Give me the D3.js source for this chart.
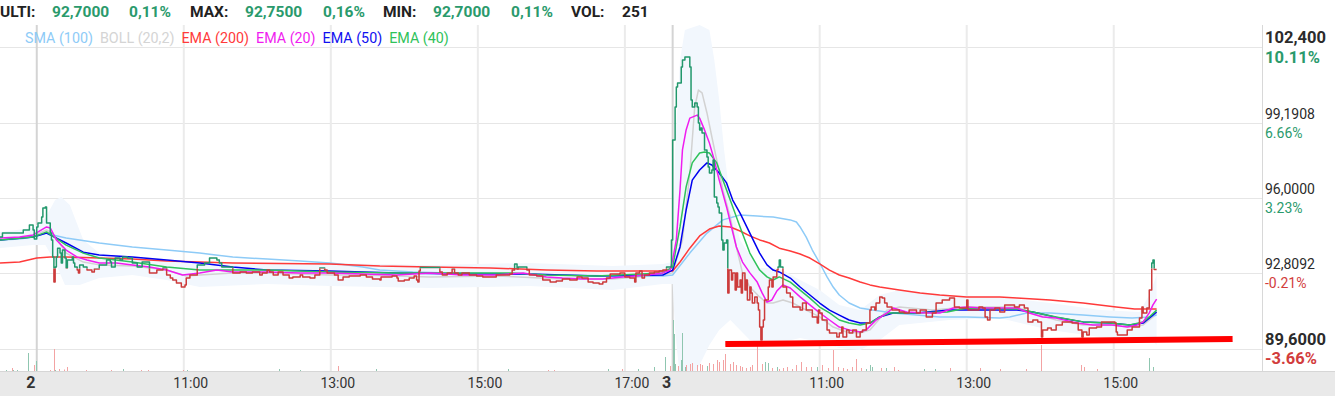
<!DOCTYPE html>
<html lang="it">
<head>
<meta charset="UTF-8">
<title>Grafico intraday</title>
<script src="https://cdn.jsdelivr.net/npm/d3@7"></script>
<style>
  body { margin: 0; background: #fff; }
  svg { display: block; font-family: Roboto, "Noto Sans", sans-serif; }
  .line { fill: none; stroke-width: 1.5; stroke-linejoin: round; }
</style>
</head>
<body>
<svg width="1335" height="396"></svg>
<script>
// header quote
const headerItems = ["ULTI:", "92,7000", "0,11%", "MAX:", "92,7500", "0,16%", "MIN:", "92,7000", "0,11%", "VOL:", "251"];
const headerIsValue = [false, true, true, false, true, true, false, true, true, false, false];

const legendNames = ["SMA (100)", "BOLL (20,2)", "EMA (200)", "EMA (20)", "EMA (50)", "EMA (40)"];

// right axis
const yTickValues = [102.4, 99.1908, 96.0, 92.8092, 89.6];
const yTickLabels = ["102,400", "99,1908", "96,0000", "92,8092", "89,6000"];
const yTickPct = ["10.11%", "6.66%", "3.23%", "-0.21%", "-3.66%"];
const refPrice = 93.0;

// bottom axis
const xTickTimes = ["2 09:00", "2 11:00", "2 13:00", "2 15:00", "2 17:00", "3 09:00", "3 11:00", "3 13:00", "3 15:00"];
const xTickLabels = ["2", "11:00", "13:00", "15:00", "17:00", "3", "11:00", "13:00", "15:00"];

// price, day 1 tail then day 2 and day 3
const price = [
  ["1 17:09", 94.33], ["1 17:11", 94.50], ["1 17:27", 94.50], ["1 17:28", 94.63], ["1 17:33", 94.84],
  ["1 17:36", 94.63], ["1 17:37", 94.25], ["2 09:00", 94.76], ["2 09:01", 94.93], ["2 09:04", 95.18],
  ["2 09:05", 95.57], ["2 09:07", 95.61], ["2 09:08", 94.93], ["2 09:11", 94.50], ["2 09:12", 94.21],
  ["2 09:13", 93.48], ["2 09:14", 92.42], ["2 09:15", 93.06], ["2 09:16", 93.48], ["2 09:17", 93.86],
  ["2 09:19", 93.65], ["2 09:20", 93.23], ["2 09:21", 93.78], ["2 09:23", 93.44], ["2 09:24", 93.02],
  ["2 09:25", 93.36], ["2 09:29", 93.48], ["2 09:30", 93.23], ["2 09:31", 93.06], ["2 09:33", 92.93],
  ["2 09:34", 92.81], ["2 09:35", 93.15], ["2 09:38", 93.06], ["2 09:41", 92.93], ["2 09:45", 92.85],
  ["2 09:47", 92.98], ["2 09:51", 93.15], ["2 09:57", 93.36], ["2 10:00", 93.27], ["2 10:01", 93.06],
  ["2 10:04", 93.44], ["2 10:08", 93.36], ["2 10:10", 93.48], ["2 10:14", 93.44], ["2 10:18", 93.23],
  ["2 10:22", 93.06], ["2 10:26", 93.27], ["2 10:32", 92.81], ["2 10:38", 92.93], ["2 10:43", 93.02],
  ["2 10:46", 92.72], ["2 10:49", 92.59], ["2 10:51", 92.51], ["2 10:54", 92.38], ["2 10:58", 92.21],
  ["2 11:01", 92.30], ["2 11:02", 92.59], ["2 11:05", 92.72], ["2 11:11", 93.15], ["2 11:17", 93.23],
  ["2 11:21", 93.44], ["2 11:27", 93.36], ["2 11:29", 93.23], ["2 11:31", 93.06], ["2 11:40", 92.81],
  ["2 11:46", 92.85], ["2 11:51", 92.81], ["2 11:56", 92.85], ["2 12:02", 92.72], ["2 12:04", 92.81],
  ["2 12:08", 92.93], ["2 12:10", 92.85], ["2 12:13", 92.72], ["2 12:17", 92.85], ["2 12:21", 92.72],
  ["2 12:26", 92.59], ["2 12:29", 92.64], ["2 12:35", 92.72], ["2 12:37", 92.64], ["2 12:43", 92.59],
  ["2 12:47", 92.72], ["2 12:51", 93.02], ["2 12:55", 92.93], ["2 12:57", 92.81], ["2 13:03", 92.72],
  ["2 13:06", 92.51], ["2 13:10", 92.64], ["2 13:15", 92.68], ["2 13:24", 92.72], ["2 13:29", 92.64],
  ["2 13:34", 92.55], ["2 13:40", 92.51], ["2 13:41", 92.64], ["2 13:50", 92.68], ["2 13:54", 92.59],
  ["2 13:55", 92.47], ["2 14:00", 92.51], ["2 14:04", 92.59], ["2 14:08", 92.68], ["2 14:10", 92.51],
  ["2 14:11", 92.42], ["2 14:12", 92.89], ["2 14:13", 93.04], ["2 14:21", 93.04], ["2 14:29", 92.85],
  ["2 14:31", 92.72], ["2 14:35", 92.81], ["2 14:39", 92.98], ["2 14:41", 92.81], ["2 14:44", 92.72],
  ["2 14:47", 92.81], ["2 14:53", 92.72], ["2 14:59", 92.68], ["2 15:04", 92.64], ["2 15:15", 92.72],
  ["2 15:26", 92.76], ["2 15:28", 92.93], ["2 15:30", 93.19], ["2 15:32", 92.98], ["2 15:33", 93.06],
  ["2 15:40", 92.93], ["2 15:42", 92.72], ["2 15:48", 92.68], ["2 15:53", 92.51], ["2 15:59", 92.42],
  ["2 16:04", 92.47], ["2 16:09", 92.55], ["2 16:15", 92.51], ["2 16:21", 92.64], ["2 16:25", 92.59],
  ["2 16:30", 92.42], ["2 16:34", 92.38], ["2 16:39", 92.34], ["2 16:42", 92.42], ["2 16:45", 92.59],
  ["2 16:48", 92.76], ["2 16:56", 92.81], ["2 17:00", 92.64], ["2 17:04", 92.59], ["2 17:08", 92.42],
  ["2 17:09", 92.81], ["2 17:12", 92.89], ["2 17:14", 92.59], ["2 17:16", 92.72], ["2 17:20", 92.81],
  ["2 17:24", 92.85], ["2 17:28", 92.89], ["2 17:31", 92.93], ["2 17:34", 93.06], ["2 17:38", 94.21],
  ["2 17:39", 95.50], ["3 09:00", 98.45], ["3 09:02", 99.85], ["3 09:03", 100.70], ["3 09:04", 100.87],
  ["3 09:06", 100.87], ["3 09:07", 101.55], ["3 09:08", 101.85], ["3 09:10", 101.98], ["3 09:12", 101.98],
  ["3 09:14", 101.55], ["3 09:15", 100.15], ["3 09:16", 99.85], ["3 09:18", 100.02], ["3 09:20", 99.85],
  ["3 09:21", 99.17], ["3 09:22", 98.88], ["3 09:23", 98.96], ["3 09:24", 98.75], ["3 09:26", 98.03],
  ["3 09:28", 97.73], ["3 09:29", 97.31], ["3 09:30", 97.05], ["3 09:32", 97.18], ["3 09:33", 97.60],
  ["3 09:34", 96.03], ["3 09:36", 95.78], ["3 09:37", 95.61], ["3 09:38", 95.35], ["3 09:40", 94.21],
  ["3 09:41", 93.78], ["3 09:42", 94.08], ["3 09:44", 94.21], ["3 09:45", 91.96], ["3 09:46", 92.93],
  ["3 09:48", 92.51], ["3 09:49", 92.81], ["3 09:51", 92.08], ["3 09:52", 92.81], ["3 09:53", 92.21],
  ["3 09:55", 92.51], ["3 09:56", 91.96], ["3 09:57", 92.81], ["3 09:59", 92.08], ["3 10:00", 92.51],
  ["3 10:01", 91.66], ["3 10:03", 92.21], ["3 10:04", 91.96], ["3 10:05", 91.53], ["3 10:07", 91.79],
  ["3 10:09", 91.53], ["3 10:10", 91.23], ["3 10:11", 90.51], ["3 10:12", 89.96], ["3 10:13", 90.51],
  ["3 10:14", 90.81], ["3 10:15", 91.66], ["3 10:18", 92.21], ["3 10:19", 92.51], ["3 10:21", 92.21],
  ["3 10:22", 92.64], ["3 10:25", 92.93], ["3 10:26", 93.06], ["3 10:27", 93.36], ["3 10:28", 93.06],
  ["3 10:30", 92.21], ["3 10:33", 91.96], ["3 10:36", 91.79], ["3 10:38", 91.36], ["3 10:44", 91.23],
  ["3 10:46", 91.53], ["3 10:49", 91.23], ["3 10:54", 90.94], ["3 10:58", 90.68], ["3 10:59", 91.23],
  ["3 11:00", 91.11], ["3 11:02", 90.81], ["3 11:06", 90.39], ["3 11:08", 90.26], ["3 11:14", 90.09],
  ["3 11:16", 90.26], ["3 11:18", 90.51], ["3 11:19", 90.09], ["3 11:22", 90.39], ["3 11:24", 90.26],
  ["3 11:27", 90.39], ["3 11:30", 90.09], ["3 11:33", 90.30], ["3 11:35", 90.39], ["3 11:38", 90.68],
  ["3 11:41", 91.23], ["3 11:42", 91.36], ["3 11:45", 91.23], ["3 11:46", 91.53], ["3 11:49", 91.79],
  ["3 11:51", 91.74], ["3 11:53", 91.53], ["3 11:55", 91.36], ["3 11:59", 91.23], ["3 12:05", 91.15],
  ["3 12:09", 91.11], ["3 12:13", 91.23], ["3 12:19", 91.11], ["3 12:22", 91.23], ["3 12:27", 90.94],
  ["3 12:32", 91.11], ["3 12:35", 91.53], ["3 12:40", 91.66], ["3 12:46", 91.74], ["3 12:50", 91.36],
  ["3 12:54", 91.32], ["3 13:00", 91.66], ["3 13:01", 91.23], ["3 13:10", 91.36], ["3 13:13", 91.32],
  ["3 13:15", 90.94], ["3 13:17", 90.81], ["3 13:19", 91.23], ["3 13:23", 91.32], ["3 13:27", 91.15],
  ["3 13:31", 91.45], ["3 13:39", 91.36], ["3 13:43", 91.45], ["3 13:47", 91.32], ["3 13:50", 90.73],
  ["3 13:54", 90.81], ["3 13:58", 90.73], ["3 14:01", 90.09], ["3 14:02", 90.39], ["3 14:06", 90.47],
  ["3 14:09", 90.39], ["3 14:13", 90.60], ["3 14:18", 90.73], ["3 14:26", 90.68], ["3 14:31", 90.39],
  ["3 14:34", 90.09], ["3 14:35", 90.30], ["3 14:38", 90.17], ["3 14:40", 90.47], ["3 14:46", 90.51],
  ["3 14:50", 90.73], ["3 14:57", 90.73], ["3 15:01", 90.68], ["3 15:02", 90.30], ["3 15:03", 90.17],
  ["3 15:07", 90.17], ["3 15:11", 90.39], ["3 15:15", 90.51], ["3 15:19", 90.51], ["3 15:21", 90.89],
  ["3 15:23", 91.36], ["3 15:24", 91.11], ["3 15:27", 91.32], ["3 15:29", 92.08], ["3 15:31", 93.23],
  ["3 15:32", 93.36], ["3 15:33", 92.95], ["3 15:35", 92.95]
];

const sma100 = [
  ["1 17:09", 94.21], ["1 17:25", 94.25], ["1 17:36", 94.33], ["2 09:08", 94.50], ["2 09:13", 94.42],
  ["2 09:24", 94.29], ["2 09:51", 94.08], ["2 10:18", 93.91], ["2 10:46", 93.78], ["2 11:13", 93.65],
  ["2 11:40", 93.48], ["2 12:08", 93.40], ["2 12:35", 93.31], ["2 12:59", 93.23], ["2 13:07", 93.19],
  ["2 13:26", 93.06], ["2 13:40", 92.93], ["2 14:07", 92.85], ["2 14:35", 92.81], ["2 15:01", 92.81],
  ["2 15:28", 92.76], ["2 16:09", 92.72], ["2 16:50", 92.68], ["2 17:31", 92.68], ["3 09:00", 92.72],
  ["3 09:14", 93.65], ["3 09:28", 94.50], ["3 09:41", 95.06], ["3 09:55", 95.27], ["3 10:09", 95.22],
  ["3 10:22", 95.18], ["3 10:36", 95.06], ["3 10:41", 94.97], ["3 10:44", 94.76], ["3 10:49", 94.33],
  ["3 10:54", 93.78], ["3 11:00", 93.23], ["3 11:06", 92.64], ["3 11:11", 92.21], ["3 11:16", 91.87],
  ["3 11:24", 91.53], ["3 11:33", 91.32], ["3 11:43", 91.23], ["3 12:00", 91.11], ["3 12:19", 91.02],
  ["3 12:38", 90.94], ["3 13:00", 90.94], ["3 13:27", 90.89], ["3 13:35", 90.94], ["3 13:49", 91.11],
  ["3 14:08", 91.11], ["3 14:35", 91.02], ["3 14:57", 90.94], ["3 15:15", 90.89], ["3 15:29", 90.94],
  ["3 15:35", 91.02]
];

const bollMid = [
  ["1 17:09", 94.21], ["1 17:36", 94.38], ["2 09:08", 94.63], ["2 09:13", 94.50], ["2 09:24", 93.65],
  ["2 09:38", 93.27], ["2 09:51", 93.15], ["2 10:18", 93.10], ["2 10:46", 92.93], ["2 11:02", 92.68],
  ["2 11:13", 92.72], ["2 11:40", 92.81], ["2 12:08", 92.81], ["2 12:59", 92.72], ["2 13:26", 92.72],
  ["2 14:21", 92.64], ["2 15:15", 92.68], ["2 16:09", 92.55], ["2 16:50", 92.55], ["2 17:31", 92.72],
  ["3 09:00", 92.81], ["3 09:08", 94.21], ["3 09:14", 97.05], ["3 09:18", 99.85], ["3 09:21", 100.57],
  ["3 09:24", 100.45], ["3 09:28", 99.60], ["3 09:32", 98.58], ["3 09:36", 97.60], ["3 09:41", 96.33],
  ["3 09:47", 95.18], ["3 09:52", 93.91], ["3 09:57", 92.81], ["3 10:03", 92.21], ["3 10:11", 91.79],
  ["3 10:17", 91.53], ["3 10:22", 91.53], ["3 10:30", 91.66], ["3 10:38", 91.53], ["3 10:49", 91.23],
  ["3 11:00", 90.94], ["3 11:11", 90.51], ["3 11:22", 90.30], ["3 11:33", 90.26], ["3 11:41", 90.39],
  ["3 11:55", 91.23], ["3 12:05", 91.36], ["3 12:32", 91.23], ["3 13:00", 91.36], ["3 13:41", 91.36],
  ["3 13:54", 91.11], ["3 14:13", 90.81], ["3 14:35", 90.60], ["3 14:57", 90.60], ["3 15:13", 90.51],
  ["3 15:24", 90.60], ["3 15:32", 90.94], ["3 15:35", 91.11]
];

const bollUpper = [
  ["1 17:09", 94.55], ["1 17:36", 94.72], ["2 09:07", 95.14], ["2 09:15", 95.90], ["2 09:20", 96.03],
  ["2 09:27", 95.69], ["2 09:38", 94.21], ["2 09:51", 93.65], ["2 10:18", 93.44], ["2 11:13", 93.27],
  ["2 12:08", 93.27], ["2 12:59", 93.23], ["2 14:21", 93.15], ["2 15:42", 93.23], ["2 16:50", 93.10],
  ["2 17:31", 93.19], ["3 09:00", 93.27], ["3 09:02", 98.03], ["3 09:06", 101.85], ["3 09:10", 103.12],
  ["3 09:22", 103.33], ["3 09:30", 103.12], ["3 09:34", 101.85], ["3 09:38", 100.15], ["3 09:42", 98.03],
  ["3 09:47", 95.90], ["3 09:55", 94.21], ["3 10:03", 93.57], ["3 10:11", 93.02], ["3 10:27", 93.02],
  ["3 10:44", 92.51], ["3 11:00", 92.08], ["3 11:16", 91.45], ["3 11:33", 91.23], ["3 11:49", 91.87],
  ["3 12:05", 92.08], ["3 12:46", 91.87], ["3 13:27", 91.79], ["3 14:08", 91.53], ["3 14:49", 91.23],
  ["3 15:21", 91.15], ["3 15:29", 91.87], ["3 15:35", 92.72]
];

const bollLower = [
  ["1 17:09", 93.87], ["1 17:36", 93.99], ["2 09:07", 93.99], ["2 09:15", 93.27], ["2 09:23", 92.30],
  ["2 09:35", 92.30], ["2 09:51", 92.59], ["2 10:18", 92.72], ["2 10:46", 92.51], ["2 11:13", 92.21],
  ["2 12:08", 92.34], ["2 12:59", 92.25], ["2 14:21", 92.17], ["2 15:42", 92.25], ["2 16:50", 92.08],
  ["2 17:31", 92.34], ["3 09:00", 92.34], ["3 09:02", 90.39], ["3 09:06", 88.26], ["3 09:14", 88.26],
  ["3 09:22", 88.90], ["3 09:30", 89.75], ["3 09:38", 90.39], ["3 09:47", 90.81], ["3 09:55", 90.39],
  ["3 10:03", 89.96], ["3 10:19", 89.75], ["3 10:44", 90.05], ["3 11:00", 89.88], ["3 11:16", 89.62],
  ["3 11:33", 89.54], ["3 11:49", 89.96], ["3 12:05", 90.60], ["3 12:46", 90.81], ["3 13:27", 90.89],
  ["3 14:08", 90.39], ["3 14:49", 90.09], ["3 15:21", 90.05], ["3 15:29", 90.05], ["3 15:35", 89.75]
];

const ema200 = [
  ["1 17:09", 93.23], ["1 17:25", 93.27], ["2 09:00", 93.44], ["2 09:11", 93.48], ["2 09:24", 93.48],
  ["2 09:51", 93.44], ["2 10:18", 93.40], ["2 10:46", 93.31], ["2 11:13", 93.27], ["2 11:40", 93.23],
  ["2 12:59", 93.19], ["2 13:40", 93.10], ["2 14:21", 93.06], ["2 15:10", 93.02], ["2 15:56", 92.93],
  ["2 16:37", 92.89], ["2 17:31", 92.89], ["3 09:00", 92.89], ["3 09:06", 93.27], ["3 09:14", 93.86],
  ["3 09:22", 94.38], ["3 09:30", 94.67], ["3 09:38", 94.80], ["3 09:47", 94.76], ["3 09:55", 94.59],
  ["3 10:03", 94.38], ["3 10:11", 94.21], ["3 10:19", 94.08], ["3 10:27", 93.86], ["3 10:36", 93.74],
  ["3 10:44", 93.61], ["3 10:52", 93.44], ["3 11:00", 93.19], ["3 11:08", 92.93], ["3 11:16", 92.72],
  ["3 11:24", 92.59], ["3 11:33", 92.42], ["3 11:41", 92.30], ["3 11:49", 92.21], ["3 12:05", 92.08],
  ["3 12:22", 91.96], ["3 12:38", 91.87], ["3 13:00", 91.79], ["3 13:27", 91.79], ["3 13:41", 91.74],
  ["3 14:08", 91.66], ["3 14:35", 91.53], ["3 15:02", 91.36], ["3 15:17", 91.28], ["3 15:35", 91.28]
];

const ema20 = [
  ["1 17:09", 94.29], ["1 17:25", 94.33], ["1 17:36", 94.42], ["2 09:08", 94.76], ["2 09:11", 94.72],
  ["2 09:16", 94.21], ["2 09:24", 93.78], ["2 09:33", 93.48], ["2 09:41", 93.36], ["2 09:51", 93.23],
  ["2 10:05", 93.23], ["2 10:18", 93.15], ["2 10:32", 93.06], ["2 10:46", 92.93], ["2 10:59", 92.72],
  ["2 11:13", 92.81], ["2 11:27", 92.93], ["2 11:40", 92.85], ["2 12:08", 92.85], ["2 12:35", 92.81],
  ["2 12:59", 92.81], ["2 13:54", 92.72], ["2 14:21", 92.81], ["2 14:48", 92.72], ["2 15:15", 92.72],
  ["2 15:37", 92.81], ["2 15:56", 92.64], ["2 16:09", 92.59], ["2 16:26", 92.55], ["2 16:42", 92.55],
  ["2 16:58", 92.64], ["2 17:18", 92.72], ["2 17:31", 92.81], ["2 17:37", 92.93], ["3 09:00", 93.36],
  ["3 09:03", 94.21], ["3 09:06", 96.33], ["3 09:08", 98.03], ["3 09:11", 98.88], ["3 09:14", 99.38],
  ["3 09:20", 99.51], ["3 09:22", 99.38], ["3 09:26", 98.88], ["3 09:30", 98.32], ["3 09:34", 97.60],
  ["3 09:38", 96.75], ["3 09:44", 95.61], ["3 09:48", 94.76], ["3 09:52", 93.91], ["3 09:57", 93.27],
  ["3 10:03", 92.81], ["3 10:09", 92.42], ["3 10:13", 91.96], ["3 10:17", 91.57], ["3 10:21", 91.66],
  ["3 10:25", 92.04], ["3 10:30", 92.30], ["3 10:36", 92.17], ["3 10:44", 91.79], ["3 10:52", 91.45],
  ["3 11:00", 91.11], ["3 11:08", 90.81], ["3 11:16", 90.51], ["3 11:24", 90.39], ["3 11:33", 90.30],
  ["3 11:38", 90.39], ["3 11:46", 90.81], ["3 11:55", 91.11], ["3 12:00", 91.32], ["3 12:11", 91.15],
  ["3 12:27", 91.11], ["3 12:38", 91.11], ["3 12:49", 91.32], ["3 13:00", 91.36], ["3 13:13", 91.32],
  ["3 13:41", 91.32], ["3 13:51", 91.11], ["3 14:02", 90.94], ["3 14:13", 90.89], ["3 14:30", 90.68],
  ["3 14:43", 90.60], ["3 14:59", 90.60], ["3 15:11", 90.51], ["3 15:19", 90.60], ["3 15:24", 90.73],
  ["3 15:29", 91.11], ["3 15:32", 91.45], ["3 15:35", 91.70]
];

const ema40 = [
  ["1 17:09", 94.21], ["1 17:36", 94.33], ["2 09:08", 94.55], ["2 09:24", 93.99], ["2 09:38", 93.65],
  ["2 09:51", 93.44], ["2 10:18", 93.27], ["2 10:46", 93.06], ["2 11:13", 92.93], ["2 12:08", 92.93],
  ["2 12:59", 92.85], ["2 13:54", 92.81], ["2 15:28", 92.81], ["2 15:56", 92.72], ["2 16:37", 92.68],
  ["2 17:31", 92.81], ["3 09:00", 93.06], ["3 09:06", 94.76], ["3 09:11", 96.46], ["3 09:16", 97.48],
  ["3 09:22", 97.90], ["3 09:26", 97.94], ["3 09:30", 97.90], ["3 09:36", 97.48], ["3 09:41", 96.75],
  ["3 09:47", 95.90], ["3 09:55", 94.76], ["3 10:03", 93.65], ["3 10:11", 92.93], ["3 10:17", 92.64],
  ["3 10:22", 92.51], ["3 10:27", 92.64], ["3 10:36", 92.42], ["3 10:44", 92.08], ["3 10:52", 91.74],
  ["3 11:00", 91.36], ["3 11:08", 91.11], ["3 11:16", 90.81], ["3 11:24", 90.68], ["3 11:33", 90.60],
  ["3 11:41", 90.68], ["3 11:49", 90.94], ["3 11:57", 91.11], ["3 12:11", 91.11], ["3 12:44", 91.15],
  ["3 13:00", 91.32], ["3 13:41", 91.28], ["3 13:54", 91.15], ["3 14:13", 90.94], ["3 14:35", 90.73],
  ["3 14:57", 90.68], ["3 15:13", 90.60], ["3 15:24", 90.73], ["3 15:29", 90.94], ["3 15:35", 91.23]
];

const ema50 = [
  ["1 17:09", 94.21], ["1 17:36", 94.33], ["2 09:08", 94.50], ["2 09:24", 94.08], ["2 09:38", 93.69],
  ["2 09:51", 93.57], ["2 10:18", 93.48], ["2 10:46", 93.36], ["2 11:13", 93.23], ["2 11:40", 93.06],
  ["2 12:08", 92.93], ["2 12:59", 92.89], ["2 13:54", 92.81], ["2 14:48", 92.76], ["2 15:42", 92.76],
  ["2 16:37", 92.68], ["2 17:31", 92.72], ["3 09:00", 92.93], ["3 09:06", 93.91], ["3 09:11", 95.48],
  ["3 09:16", 96.75], ["3 09:22", 97.18], ["3 09:28", 97.48], ["3 09:32", 97.39], ["3 09:38", 97.05],
  ["3 09:44", 96.63], ["3 09:49", 95.90], ["3 09:55", 95.35], ["3 10:03", 94.50], ["3 10:11", 93.65],
  ["3 10:17", 93.15], ["3 10:22", 92.93], ["3 10:27", 92.85], ["3 10:36", 92.59], ["3 10:44", 92.21],
  ["3 10:52", 91.87], ["3 11:00", 91.53], ["3 11:08", 91.23], ["3 11:16", 91.02], ["3 11:24", 90.81],
  ["3 11:33", 90.68], ["3 11:41", 90.68], ["3 11:49", 90.94], ["3 12:00", 91.11], ["3 12:19", 91.11],
  ["3 12:46", 91.23], ["3 13:13", 91.23], ["3 13:41", 91.23], ["3 13:54", 91.15], ["3 14:16", 90.89],
  ["3 14:35", 90.73], ["3 14:57", 90.68], ["3 15:13", 90.60], ["3 15:24", 90.68], ["3 15:29", 90.89],
  ["3 15:35", 91.15]
];

// volume: time, contracts, 1 = up tick, 0 = down tick
const volume = [
  ["1 17:14", 100, 1], ["1 17:19", 300, 0], ["1 17:20", 100, 1], ["1 17:23", 100, 1], ["1 17:32", 1800, 1],
  ["1 17:37", 600, 0], ["1 17:38", 1000, 1], ["2 09:11", 100, 0], ["2 09:14", 2200, 0], ["2 09:15", 100, 1],
  ["2 09:18", 200, 0], ["2 09:22", 150, 0], ["2 09:25", 400, 0], ["2 09:40", 100, 0], ["2 10:01", 100, 0],
  ["2 10:10", 200, 1], ["2 10:25", 100, 0], ["2 10:31", 100, 0], ["2 10:59", 100, 0], ["2 11:03", 100, 1],
  ["2 12:18", 200, 1], ["2 12:35", 100, 1], ["2 13:06", 500, 0], ["2 13:37", 200, 1], ["2 15:25", 200, 1],
  ["2 15:57", 100, 0], ["2 16:02", 100, 0], ["2 16:46", 200, 1], ["2 16:58", 200, 0], ["2 17:11", 200, 1],
  ["2 17:24", 400, 1], ["2 17:33", 1400, 1], ["2 17:37", 500, 0], ["3 09:00", 5100, 1], ["3 09:01", 3700, 1],
  ["3 09:02", 700, 1], ["3 09:04", 500, 0], ["3 09:07", 1100, 1], ["3 09:08", 3800, 1], ["3 09:10", 400, 1],
  ["3 09:11", 600, 0], ["3 09:14", 700, 0], ["3 09:16", 800, 0], ["3 09:20", 600, 0], ["3 09:22", 700, 0],
  ["3 09:24", 600, 0], ["3 09:28", 500, 1], ["3 09:30", 800, 0], ["3 09:33", 700, 0], ["3 09:36", 1100, 0],
  ["3 09:38", 900, 0], ["3 09:41", 1100, 0], ["3 09:43", 1700, 0], ["3 09:47", 700, 0], ["3 09:49", 900, 0],
  ["3 09:52", 600, 0], ["3 09:55", 500, 0], ["3 09:57", 400, 0], ["3 10:00", 300, 0], ["3 10:03", 400, 0],
  ["3 10:05", 600, 0], ["3 10:09", 2500, 0], ["3 10:13", 700, 0], ["3 10:15", 900, 1], ["3 10:18", 800, 1],
  ["3 10:21", 300, 0], ["3 10:25", 400, 1], ["3 10:27", 200, 0], ["3 10:30", 300, 0], ["3 10:33", 400, 0],
  ["3 10:37", 200, 0], ["3 10:41", 600, 0], ["3 10:45", 900, 0], ["3 10:49", 400, 0], ["3 10:53", 400, 0],
  ["3 10:58", 400, 1], ["3 11:02", 600, 0], ["3 11:07", 300, 0], ["3 11:11", 2100, 0], ["3 11:15", 400, 0],
  ["3 11:19", 300, 0], ["3 11:22", 200, 0], ["3 11:26", 400, 0], ["3 11:30", 1200, 0], ["3 11:34", 300, 0],
  ["3 11:38", 200, 1], ["3 11:41", 600, 1], ["3 11:43", 400, 1], ["3 11:50", 300, 0], ["3 11:54", 300, 1],
  ["3 12:01", 400, 0], ["3 12:04", 100, 0], ["3 12:25", 200, 1], ["3 12:34", 200, 1], ["3 12:46", 300, 0],
  ["3 13:11", 300, 0], ["3 13:27", 200, 0], ["3 13:48", 200, 0], ["3 14:01", 2600, 0], ["3 14:33", 600, 0],
  ["3 14:36", 400, 0], ["3 14:46", 200, 0], ["3 15:29", 1300, 1], ["3 15:32", 400, 1]
];

// support line drawn on the chart
const supportLine = [["3 09:43", 89.79], ["3 16:37", 90.00]];

// ---------------------------------------------------------------
const svg = d3.select("svg");
const W = 1335, H = 396;
const plotRight = 1262, plotTop = 25, plotBottom = 371;

// session minutes: day 2 opens at 0, one session = 519 minutes (09:00-17:39)
function sessionMin(s) {
    const [d, hm] = s.split(" ");
    const [h, m] = hm.split(":").map(Number);
    return (+d - 2) * 519 + h * 60 + m - 540;
}

const x = d3.scaleLinear().domain([-30, 1000]).range([0, plotRight]);
const y = d3.scaleLinear().domain([89.6, 102.4]).range([348.5, 47]);
const yVol = d3.scaleLinear().domain([0, 5100]).range([plotBottom, plotBottom - 51]);

const defs = svg.append("defs");
defs.append("clipPath").attr("id", "plot")
    .append("rect").attr("x", 0).attr("y", plotTop).attr("width", plotRight).attr("height", plotBottom - plotTop);
const yRef = y(refPrice);
defs.append("clipPath").attr("id", "above")
    .append("rect").attr("x", 0).attr("y", plotTop).attr("width", plotRight).attr("height", yRef - plotTop);
defs.append("clipPath").attr("id", "below")
    .append("rect").attr("x", 0).attr("y", yRef).attr("width", plotRight).attr("height", plotBottom - yRef);

// grid
const grid = svg.append("g");
grid.selectAll(".hgrid")
    .data(yTickValues)
    .enter().append("line")
    .attr("x1", 0).attr("x2", plotRight)
    .attr("y1", d => Math.round(y(d)) + 0.5).attr("y2", d => Math.round(y(d)) + 0.5)
    .attr("stroke", "#e6e6e6");
grid.selectAll(".vgrid")
    .data(xTickTimes)
    .enter().append("line")
    .attr("x1", d => x(sessionMin(d))).attr("x2", d => x(sessionMin(d)))
    .attr("y1", plotTop).attr("y2", plotBottom)
    .attr("stroke", (d, i) => xTickLabels[i].length === 1 ? "#d4d4d4" : "#ebebeb")
    .attr("stroke-width", 2);

const plot = svg.append("g").attr("clip-path", "url(#plot)");

// bollinger band: upper edge forward, lower edge back
const bandPath = d3.path();
bollUpper.forEach((d, i) => {
    const px = x(sessionMin(d[0])), py = y(d[1]);
    if (i === 0) bandPath.moveTo(px, py); else bandPath.lineTo(px, py);
});
bollLower.slice().reverse().forEach(d => bandPath.lineTo(x(sessionMin(d[0])), y(d[1])));
bandPath.closePath();
plot.append("path").attr("d", bandPath.toString()).attr("fill", "#f2f7fd");

// volume
plot.selectAll(".vol")
    .data(volume)
    .enter().append("rect")
    .attr("x", d => Math.round(x(sessionMin(d[0]))))
    .attr("width", 1)
    .attr("y", d => yVol(d[1]))
    .attr("height", d => plotBottom - yVol(d[1]))
    .attr("fill", d => d[2] ? "#8fc6b0" : "#f3a3a3");

// moving averages
const line = d3.line()
    .x(d => x(sessionMin(d[0])))
    .y(d => y(d[1]));
const series = [
    [bollMid, "#d2d2d2"],
    [sma100, "#8ecbf7"],
    [ema200, "#ff3a3a"],
    [ema50, "#0000f0"],
    [ema40, "#2fc25a"],
    [ema20, "#f01cf0"]
];
series.forEach(([data, color]) => {
    plot.append("path").datum(data)
        .attr("class", "line")
        .attr("stroke", color)
        .attr("d", line);
});

// price, green above reference, red below
const priceLine = d3.line()
    .x(d => x(sessionMin(d[0])))
    .y(d => y(d[1]))
    .curve(d3.curveStepAfter);
[["above", "#22986c"], ["below", "#cc3b3b"]].forEach(([clip, color]) => {
    plot.append("g").attr("clip-path", `url(#${clip})`)
        .append("path").datum(price)
        .attr("class", "line")
        .attr("stroke", color)
        .attr("d", priceLine);
});

// support line
plot.append("path").datum(supportLine)
    .attr("fill", "none")
    .attr("stroke", "#ff0000")
    .attr("stroke-width", 6)
    .attr("d", line);

// right axis
svg.append("line")
    .attr("x1", plotRight + 0.5).attr("x2", plotRight + 0.5)
    .attr("y1", plotTop).attr("y2", plotBottom)
    .attr("stroke", "#d8d8d8");
const yAxis = svg.append("g");
yTickValues.forEach((v, i) => {
    const bold = i === 0 || i === yTickValues.length - 1;
    yAxis.append("text")
        .attr("x", plotRight + 3).attr("y", y(v) - 4)
        .attr("font-size", bold ? 16.5 : 14)
        .attr("font-weight", bold ? 700 : 400)
        .attr("fill", "#2b2b2b")
        .text(yTickLabels[i]);
    yAxis.append("text")
        .attr("x", plotRight + 3).attr("y", y(v) + 15.5)
        .attr("font-size", bold ? 16.5 : 14)
        .attr("font-weight", bold ? 700 : 400)
        .attr("fill", v >= refPrice ? "#2a9a6c" : "#d23c3c")
        .text(yTickPct[i]);
});

// bottom axis
svg.append("rect")
    .attr("x", 0).attr("y", plotBottom).attr("width", W).attr("height", H - plotBottom)
    .attr("fill", "#e9e9e9");
svg.append("line")
    .attr("x1", 0).attr("x2", W).attr("y1", plotBottom + 0.5).attr("y2", plotBottom + 0.5)
    .attr("stroke", "#d6d6d6");
svg.selectAll(".xlabel")
    .data(xTickTimes)
    .enter().append("text")
    .attr("x", (d, i) => x(sessionMin(d)) + (xTickLabels[i].length === 1 ? -6 : 7))
    .attr("y", 388)
    .attr("text-anchor", "middle")
    .attr("font-size", (d, i) => xTickLabels[i].length === 1 ? 16 : 14)
    .attr("font-weight", (d, i) => xTickLabels[i].length === 1 ? 700 : 400)
    .attr("fill", "#333")
    .text((d, i) => xTickLabels[i]);

// header
const headerX = [0, 52, 129, 190, 245, 323, 383, 433, 511, 571, 622];
svg.selectAll(".head")
    .data(headerItems)
    .enter().append("text")
    .attr("x", (d, i) => headerX[i])
    .attr("y", 17)
    .attr("font-size", 15.5)
    .attr("font-weight", 700)
    .attr("fill", (d, i) => headerIsValue[i] ? "#2a9a6c" : "#222")
    .text(d => d);

// legend
const legendColors = ["#8ecbf7", "#d4d4d4", "#ff3a3a", "#f01cf0", "#1010f0", "#2fc25a"];
let lx = 25;
legendNames.forEach((name, i) => {
    const t = svg.append("text")
        .attr("x", lx).attr("y", 43)
        .attr("font-size", 14.3)
        .attr("fill", legendColors[i])
        .text(name);
    lx += t.node().getComputedTextLength() + 7;
});
</script>
</body>
</html>
